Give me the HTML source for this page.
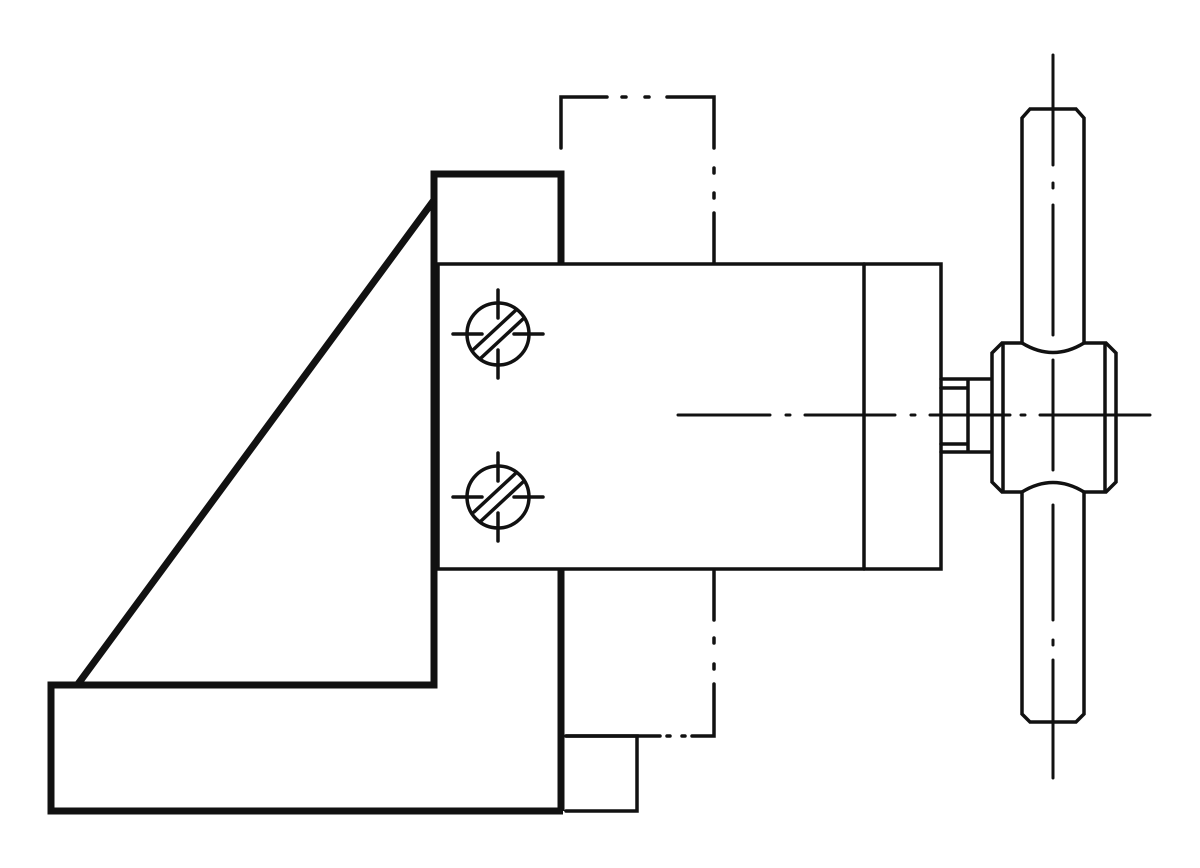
<!DOCTYPE html>
<html><head><style>html,body{margin:0;padding:0;background:#fff}svg{display:block}</style></head>
<body>
<svg width="1200" height="868" viewBox="0 0 1200 868" xmlns="http://www.w3.org/2000/svg" fill="none" stroke="#111" stroke-linecap="round">
<!-- thick bracket -->
<g stroke-width="7" stroke-linejoin="miter" stroke-linecap="butt">
<path d="M561 265 V174 H434 V685 H51 V811 H563"/>
<path d="M561 568 V811"/>
<path d="M434 200 L78 684"/>
</g>
<!-- thin -->
<g stroke-width="3.5">
<rect x="438" y="264" width="503" height="305"/>
<line x1="864" y1="264" x2="864" y2="569"/>
<path d="M566 736 H637 V811 H566"/>
<path d="M566 736 H660"/>
<!-- shaft -->
<path d="M941 379 H990 M941 452 H990 M968 379 V452 M941 388 H968 M941 444 H968"/>
<!-- hub -->
<path d="M1002 343 H1022 Q1053 362 1084 343 H1106 L1116 353 V482 L1106 492 H1084 Q1053 473 1022 492 H1002 L992 482 V353 Z"/>
<line x1="1003" y1="345" x2="1003" y2="490"/>
<line x1="1105" y1="345" x2="1105" y2="490"/>
<!-- rods -->
<path d="M1022 343 V118 L1030 109 H1076 L1084 118 V343"/>
<path d="M1022 492 V714 L1030 722 H1076 L1084 714 V492"/>
<!-- crosshairs -->
<g id="c1">
<circle cx="498" cy="334" r="31"/>
<line x1="453" y1="334" x2="482" y2="334"/><line x1="514" y1="334" x2="543" y2="334"/>
<line x1="498" y1="290" x2="498" y2="318"/><line x1="498" y1="350" x2="498" y2="378"/>
<line x1="474" y1="349" x2="516" y2="310"/><line x1="481" y1="358" x2="523" y2="319"/>
</g>
<use href="#c1" transform="translate(0,163)"/>
<!-- phantom top -->
<path d="M561 148 V97 H607 M622 97 h4 M645 97 h4 M667 97 H714 V148 M714 168 v5 M714 193 v5 M714 213 V263"/>
<!-- phantom bottom -->
<path d="M714 571 V620 M714 638 v5 M714 664 v5 M714 684 V736 H692 M667 736 h3 M682 736 h3"/>
<!-- centerlines -->
<path d="M678 415 H770 M786 415 h4 M805 415 H895 M911 415 h4 M930 415 H1010 M1021 415 h4 M1040 415 H1150" stroke-width="3"/>
<path d="M1053 55 V165 M1053 183 v5 M1053 205 V335 M1053 360 V470 M1053 505 V620 M1053 640 v5 M1053 660 V778" stroke-width="3"/>
</g>
</svg>
</body></html>
